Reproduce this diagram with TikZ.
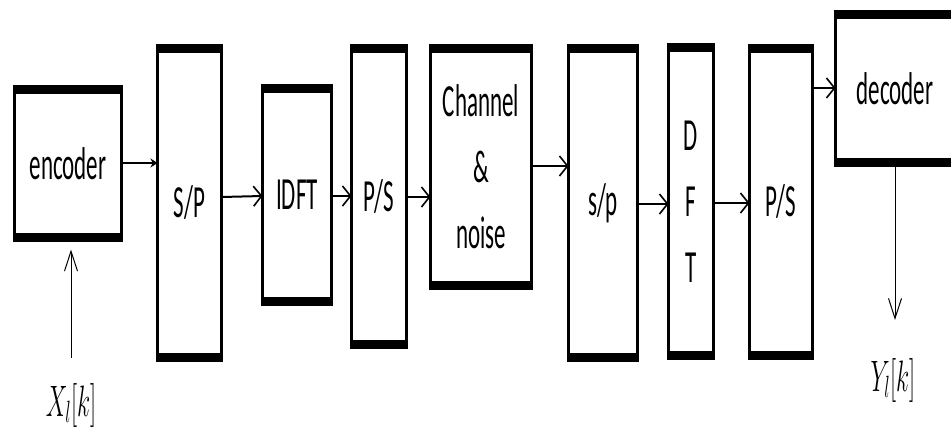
\RequirePackage{fix-cm}
\documentclass[tikz,border=0pt]{standalone}
\usepackage{fontspec}
\setmainfont{Carlito}
\usepackage{graphicx}
\usetikzlibrary{arrows.meta}
\newcommand\sqz[1]{\scalebox{0.5}[1]{#1}}
\newcommand\mathsqz[1]{\scalebox{0.55}[1]{#1}}
\tikzset{
  blk/.style={draw, line width=3pt, inner sep=0pt, outer sep=0pt, align=center,
    font=\fontsize{46}{66}\selectfont},
  bar/.style={line width=9pt},
  arr/.style={line width=2pt, -{Straight Barb[length=8pt,width=20pt,line width=1.6pt]}},
  firstarr/.style={line width=2pt, -{Stealth[length=7pt,width=9pt]}},
  thinarr/.style={line width=1pt, -{Straight Barb[length=20pt,width=13pt,line width=1pt]}},
  sig/.style={inner sep=0pt, font=\fontsize{44}{52}\selectfont}
}
% name, L, T, R, B, text
\newcommand\blk[6]{%
  \node[blk, minimum width={#4-#2-3}, minimum height={#5-#3-9}] (#1) at ({(#2+#4)/2},{(#3+#5)/2}) {#6};
  \draw[bar] ([xshift=-1.5pt]#1.north west) -- ([xshift=1.5pt]#1.north east);
  \draw[bar] ([xshift=-1.5pt]#1.south west) -- ([xshift=1.5pt]#1.south east);
}
\begin{document}
\begin{tikzpicture}[x=1pt,y=-1pt]
\useasboundingbox[fill=white] (0,0) rectangle (951,436);
\blk{enc}{13}{85}{123}{242}{\sqz{encoder}}
\blk{spa}{156}{44}{223}{362}{\sqz{S/P}}
\blk{idft}{261}{84}{333}{306}{\sqz{IDFT}}
\blk{psa}{350}{44}{408}{349}{\sqz{P/S}}
\blk{ch}{429}{44}{533}{290}{\sqz{Channel}\\\sqz{\&}\\\sqz{noise}}
\blk{spb}{567}{44}{639}{362}{\raisebox{-10pt}{\sqz{s/p}}}
\blk{dft}{667}{43}{715}{360}{\sqz{D}\\\sqz{F}\\\sqz{T}}
\blk{psb}{748}{44}{814}{360}{\raisebox{-10pt}{\sqz{P/S}}}
\blk{dec}{834}{10}{956}{167}{\sqz{decoder}}

\node[sig] (xin) at (71,405) {\mathsqz{$X_l[k]$}};
\node[sig] (yout) at (893,380) {\mathsqz{$Y_l[k]$}};
\coordinate (xstart) at (71,358);
\coordinate (yend) at (895,320);

\draw[firstarr] (enc.east |- 0,163) -- (spa.west |- 0,163);
\draw[arr] (spa.east |- 0,197) -- (idft.west |- 0,196);
\draw[arr] (idft.east |- 0,196) -- (psa.west |- 0,196);
\draw[arr] (psa.east |- 0,197) -- (ch.west |- 0,197);
\draw[arr] (ch.east |- 0,166) -- (spb.west |- 0,166);
\draw[arr] (spb.east |- 0,204) -- (dft.west |- 0,204);
\draw[arr] (dft.east |- 0,203) -- (psb.west |- 0,203);
\draw[arr] (psb.east |- 0,88) -- (dec.west |- 0,88);
\draw[thinarr] (xstart) -- ([yshift=-12pt]enc.south -| xstart);
\draw[thinarr] (dec.south -| yend) -- (yend);
\end{tikzpicture}
\end{document}
